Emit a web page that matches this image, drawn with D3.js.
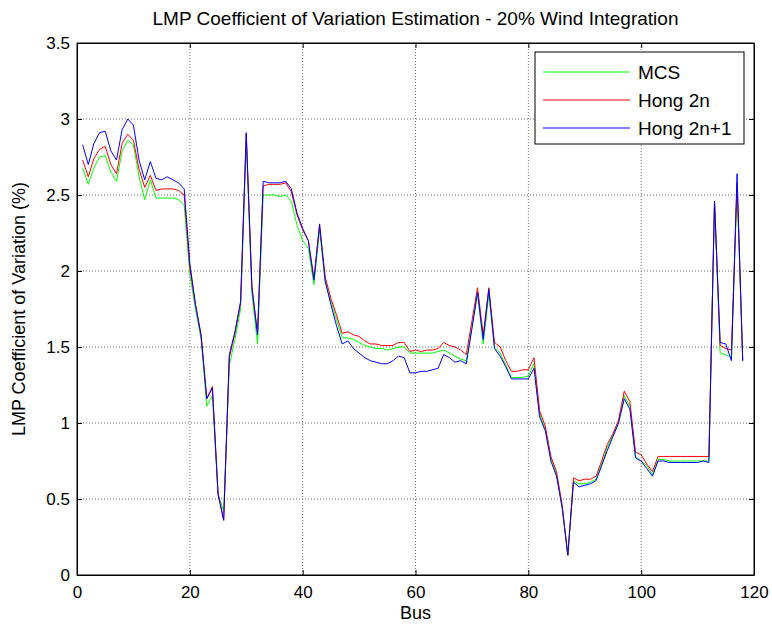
<!DOCTYPE html>
<html>
<head>
<meta charset="utf-8">
<script src="https://cdn.jsdelivr.net/npm/d3@7"></script>
<style>
  html, body { margin: 0; padding: 0; background: #fff; }
  svg { display: block; }
  text { font-family: "Liberation Sans", Arial, Helvetica, sans-serif; fill: #000; }
</style>
</head>
<body>
<svg id="chart" width="772" height="629"></svg>
<script>
// ---- data ----
const buses = d3.range(1, 119);
const seriesNames = ["MCS", "Hong 2n", "Hong 2n+1"];
const mcs = [2.68,2.57,2.68,2.75,2.76,2.65,2.59,2.79,2.86,2.83,
  2.62,2.47,2.60,2.48,2.48,2.48,2.48,2.47,2.43,1.98,
  1.75,1.55,1.11,1.18,0.53,0.42,1.38,1.55,1.75,2.86,
  1.85,1.52,2.50,2.50,2.50,2.49,2.50,2.46,2.30,2.20,
  2.15,1.91,2.27,1.93,1.80,1.68,1.56,1.56,1.55,1.53,
  1.51,1.50,1.49,1.49,1.48,1.49,1.50,1.50,1.46,1.46,
  1.46,1.46,1.46,1.47,1.48,1.46,1.44,1.42,1.41,1.63,
  1.85,1.52,1.85,1.50,1.46,1.38,1.30,1.30,1.30,1.31,
  1.39,1.06,0.96,0.77,0.66,0.45,0.13,0.62,0.60,0.60,
  0.61,0.63,0.73,0.84,0.92,1.01,1.18,1.11,0.78,0.75,
  0.72,0.66,0.76,0.76,0.75,0.75,0.75,0.75,0.75,0.75,
  0.75,0.75,2.44,1.46,1.45,1.43,2.55,1.41];
const hong2n = [2.73,2.62,2.74,2.80,2.82,2.70,2.64,2.84,2.90,2.86,
  2.67,2.55,2.63,2.53,2.54,2.54,2.54,2.53,2.50,2.02,
  1.78,1.57,1.16,1.24,0.54,0.36,1.43,1.59,1.79,2.90,
  1.89,1.59,2.56,2.57,2.57,2.57,2.58,2.52,2.37,2.27,
  2.20,1.95,2.30,1.96,1.82,1.71,1.59,1.60,1.58,1.57,
  1.54,1.52,1.52,1.51,1.51,1.51,1.53,1.53,1.47,1.48,
  1.47,1.48,1.48,1.49,1.53,1.51,1.50,1.48,1.45,1.67,
  1.89,1.58,1.89,1.53,1.50,1.41,1.34,1.34,1.35,1.35,
  1.43,1.08,0.98,0.78,0.68,0.46,0.13,0.64,0.62,0.63,
  0.63,0.65,0.75,0.86,0.93,1.02,1.21,1.14,0.81,0.79,
  0.73,0.68,0.78,0.78,0.78,0.78,0.78,0.78,0.78,0.78,
  0.78,0.78,2.46,1.51,1.49,1.48,2.58,1.41];
const hong2n1 = [2.83,2.70,2.84,2.91,2.92,2.79,2.73,2.93,3.00,2.96,
  2.73,2.60,2.72,2.61,2.60,2.62,2.60,2.58,2.54,2.05,
  1.78,1.58,1.16,1.23,0.53,0.36,1.45,1.60,1.80,2.91,
  1.90,1.58,2.59,2.58,2.58,2.58,2.59,2.54,2.38,2.28,
  2.20,1.94,2.31,1.93,1.78,1.64,1.52,1.54,1.49,1.46,
  1.43,1.41,1.40,1.39,1.39,1.41,1.44,1.43,1.33,1.33,
  1.34,1.34,1.35,1.36,1.45,1.43,1.40,1.41,1.39,1.62,
  1.86,1.55,1.88,1.49,1.44,1.37,1.29,1.29,1.29,1.29,
  1.36,1.04,0.95,0.75,0.65,0.44,0.13,0.61,0.58,0.59,
  0.60,0.62,0.72,0.82,0.91,1.00,1.16,1.09,0.77,0.75,
  0.70,0.65,0.75,0.75,0.74,0.74,0.74,0.74,0.74,0.74,
  0.75,0.74,2.46,1.53,1.52,1.41,2.64,1.41];
const xTicks = [0, 20, 40, 60, 80, 100, 120];
const yTicks = [0, 0.5, 1, 1.5, 2, 2.5, 3, 3.5];
const yTickLabels = ["0", "0.5", "1", "1.5", "2", "2.5", "3", "3.5"];
const colors = ["#00ff00", "#ff0000", "#0000ff"];

// ---- layout ----
const svg = d3.select("#chart");
const m = { left: 77, right: 18, top: 43, bottom: 54 };
const W = 772, H = 629;
const iw = W - m.left - m.right, ih = H - m.top - m.bottom;
const g = svg.append("g").attr("transform", `translate(${m.left},${m.top})`);

const x = d3.scaleLinear().domain([0, 120]).range([0, iw]);
const y = d3.scaleLinear().domain([0, 3.5]).range([ih, 0]);

// grid
const grid = g.append("g");
grid.selectAll(".gx").data(xTicks.slice(1, -1)).join("line")
  .attr("x1", d => x(d)).attr("x2", d => x(d)).attr("y1", 0).attr("y2", ih)
  .attr("stroke", "#6e6e6e").attr("stroke-width", 1).attr("stroke-dasharray", "1,2");
grid.selectAll(".gy").data(yTicks.slice(1, -1)).join("line")
  .attr("y1", d => y(d)).attr("y2", d => y(d)).attr("x1", 0).attr("x2", iw)
  .attr("stroke", "#6e6e6e").attr("stroke-width", 1).attr("stroke-dasharray", "1,2");

// axes (ticks inward, box)
const tl = 5;
const axB = g.append("g").attr("transform", `translate(0,${ih})`)
  .call(d3.axisBottom(x).tickValues(xTicks).tickSizeInner(-tl).tickSizeOuter(0).tickPadding(11));
const axT = g.append("g")
  .call(d3.axisTop(x).tickValues(xTicks).tickSizeInner(-tl).tickSizeOuter(0).tickFormat(""));
const axL = g.append("g")
  .call(d3.axisLeft(y).tickValues(yTicks).tickFormat((d, i) => yTickLabels[i]).tickSizeInner(-tl).tickSizeOuter(0).tickPadding(7));
const axR = g.append("g").attr("transform", `translate(${iw},0)`)
  .call(d3.axisRight(y).tickValues(yTicks).tickSizeInner(-tl).tickSizeOuter(0).tickFormat(""));
[axB, axT, axL, axR].forEach(a => {
  a.select(".domain").attr("stroke", "#000");
  a.selectAll(".tick line").attr("stroke", "#000");
  a.selectAll(".tick text").style("font-size", "17px").attr("fill", "#000");
});

// lines
const allSeries = [mcs, hong2n, hong2n1];
const line = d3.line().x((d, i) => x(buses[i])).y(d => y(d));
const plot = g.append("g");
allSeries.forEach((s, k) => {
  plot.append("path").datum(s).attr("d", line)
    .attr("fill", "none").attr("stroke", colors[k]).attr("stroke-width", 1)
    .attr("stroke-linejoin", "miter");
});

// box on top
g.append("rect").attr("x", 0).attr("y", 0).attr("width", iw).attr("height", ih)
  .attr("fill", "none").attr("stroke", "#000").attr("stroke-width", 1);

// legend
const lgW = 209, lgH = 92;
const lgX = iw - 10 - lgW, lgY = 9;
const lg = g.append("g").attr("transform", `translate(${lgX},${lgY})`);
lg.append("rect").attr("width", lgW).attr("height", lgH)
  .attr("fill", "#fff").attr("stroke", "#000").attr("stroke-width", 1);
seriesNames.forEach((n, k) => {
  const yy = 20 + k * 28;
  lg.append("line").attr("x1", 8).attr("x2", 95).attr("y1", yy).attr("y2", yy)
    .attr("stroke", colors[k]).attr("stroke-width", 1);
  lg.append("text").attr("x", 103).attr("y", yy).attr("dy", "0.35em")
    .style("font-size", "19px").text(n);
});

// labels
svg.append("text").attr("x", m.left + iw / 2).attr("y", 25).attr("text-anchor", "middle")
  .style("font-size", "19px").text("LMP Coefficient of Variation Estimation - 20% Wind Integration");
svg.append("text").attr("x", m.left + iw / 2).attr("y", 619).attr("text-anchor", "middle")
  .style("font-size", "18px").text("Bus");
svg.append("text").attr("transform", `translate(25,${m.top + ih / 2}) rotate(-90)`)
  .attr("text-anchor", "middle").style("font-size", "18px").text("LMP Coefficient of Variation (%)");
</script>
</body>
</html>
